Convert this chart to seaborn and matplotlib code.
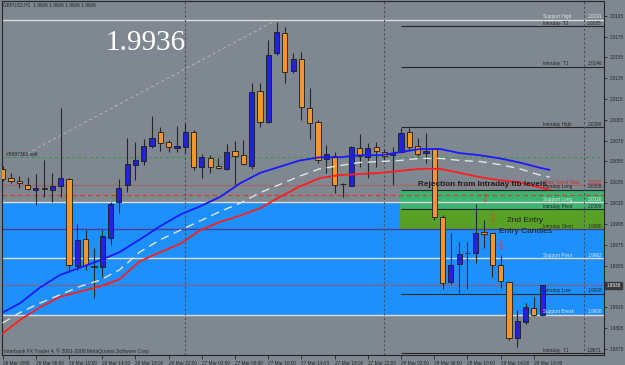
import numpy as np
import pandas as pd
import seaborn as sns
import matplotlib.pyplot as plt
import matplotlib.transforms as mtransforms

# GBPUSD H1, one candle per hour starting 26 Mar 2008 02:00
opens = [2.0048, 2.0039, 2.0036, 2.0032, 2.0028, 2.0030, 2.0028, 2.0031, 2.0038, 1.9955,
         1.9981, 1.9955, 1.9954, 1.9982, 2.0016, 2.0032, 2.0052, 2.0055, 2.0070, 2.0083,
         2.0074, 2.0068, 2.0069, 2.0083, 2.0050, 2.0058, 2.0051, 2.0048, 2.0065, 2.0061,
         2.0051, 2.0123, 2.0093, 2.0159, 2.0178, 2.0142, 2.0153, 2.0106, 2.0093, 2.0057,
         2.0060, 2.0033, 2.0031, 2.0068, 2.0059, 2.0069, 2.0064, 2.0061, 2.0064, 2.0083,
         2.0070, 2.0063, 2.0067, 2.0002, 1.9939, 1.9957, 1.9967, 1.9967, 1.9987, 1.9986,
         1.9956, 1.9939, 1.9886, 1.9901, 1.9914, 1.9908]
highs = [2.0051, 2.0044, 2.0041, 2.0040, 2.0043, 2.0056, 2.0044, 2.0106, 2.0039, 1.9995,
         1.9989, 1.9972, 1.9989, 2.0016, 2.0038, 2.0078, 2.0074, 2.0077, 2.0099, 2.0088,
         2.0076, 2.0089, 2.0092, 2.0085, 2.0062, 2.0061, 2.0058, 2.0072, 2.0075, 2.0076,
         2.0130, 2.0130, 2.0172, 2.0189, 2.0184, 2.0159, 2.0160, 2.0126, 2.0095, 2.0071,
         2.0064, 2.0034, 2.0070, 2.0081, 2.0073, 2.0074, 2.0066, 2.0069, 2.0087, 2.0087,
         2.0078, 2.0082, 2.0068, 2.0004, 1.9986, 1.9978, 1.9978, 2.0014, 1.9999, 1.9986,
         1.9965, 1.9939, 1.9912, 1.9919, 1.9925, 1.9936]
lows = [2.0036, 2.0034, 2.0030, 2.0028, 2.0013, 2.0021, 2.0016, 2.0021, 1.9949, 1.9951,
        1.9951, 1.9924, 1.9944, 1.9975, 2.0006, 2.0026, 2.0037, 2.0052, 2.0068, 2.0065,
        2.0064, 2.0064, 2.0063, 2.0047, 2.0039, 2.0044, 2.0048, 2.0047, 2.0032, 2.0052,
        2.0048, 2.0088, 2.0092, 2.0157, 2.0130, 2.0140, 2.0095, 2.0077, 2.0054, 2.0044,
        2.0025, 2.0021, 2.0031, 2.0050, 2.0039, 2.0050, 2.0056, 2.0032, 2.0063, 2.0066,
        2.0060, 2.0054, 1.9999, 1.9933, 1.9937, 1.9929, 1.9933, 1.9958, 1.9972, 1.9944,
        1.9934, 1.9884, 1.9877, 1.9899, 1.9907, 1.9907]
closes = [2.0038, 2.0036, 2.0034, 2.0029, 2.0030, 2.0029, 2.0031, 2.0039, 1.9956, 1.9980,
          1.9956, 1.9954, 1.9983, 2.0014, 2.0030, 2.0053, 2.0056, 2.0070, 2.0078, 2.0073,
          2.0069, 2.0070, 2.0083, 2.0050, 2.0059, 2.0050, 2.0049, 2.0064, 2.0060, 2.0053,
          2.0122, 2.0093, 2.0157, 2.0179, 2.0141, 2.0153, 2.0107, 2.0092, 2.0056, 2.0062,
          2.0032, 2.0033, 2.0069, 2.0060, 2.0068, 2.0065, 2.0060, 2.0063, 2.0082, 2.0069,
          2.0062, 2.0065, 2.0002, 1.9938, 1.9956, 1.9966, 1.9967, 1.9986, 1.9985, 1.9956,
          1.9940, 1.9886, 1.9902, 1.9915, 1.9908, 1.9936]

# moving averages, read at these bar positions
ma_bars = [0, 2.1, 4.5, 6.9, 9.3, 11.7, 14.1, 16.5, 19.0, 21.4, 23.8, 26.2, 28.6, 31.0, 33.4,
           35.8, 38.2, 40.6, 43.0, 45.5, 47.9, 50.3, 52.7, 55.1, 57.5, 59.9, 62.3, 64.7, 65.9]
ma_blue = [1.9910, 1.9919, 1.9934, 1.9946, 1.9953, 1.9960, 1.9968, 1.9980, 1.9993, 2.0004,
           2.0012, 2.0021, 2.0034, 2.0044, 2.0050, 2.0056, 2.0059, 2.0059, 2.0061, 2.0061,
           2.0064, 2.0067, 2.0067, 2.0063, 2.0061, 2.0058, 2.0054, 2.0049, 2.0047]
ma_silver = [1.9900, 1.9910, 1.9919, 1.9927, 1.9935, 1.9941, 1.9951, 1.9968, 1.9980, 1.9989,
             1.9998, 2.0007, 2.0015, 2.0025, 2.0033, 2.0041, 2.0048, 2.0051, 2.0054, 2.0055,
             2.0056, 2.0058, 2.0058, 2.0056, 2.0055, 2.0052, 2.0048, 2.0042, 2.0040]
ma_red = [1.9890, 1.9903, 1.9915, 1.9925, 1.9930, 1.9935, 1.9942, 1.9959, 1.9968, 1.9976,
          1.9989, 1.9997, 2.0003, 2.0010, 2.0021, 2.0031, 2.0039, 2.0042, 2.0043, 2.0044,
          2.0046, 2.0048, 2.0048, 2.0044, 2.0040, 2.0037, 2.0035, 2.0030, 2.0028]

# pivot / fib levels drawn by the indicator
level_names = ["Support High", "Intraday  T2", "Intraday  T1", "Intraday High",
               "Short Trend Stop", "Intraday Long", "Support Long", "Intraday Pivot",
               "Intraday Short", "Support Pivot", "Intraday Low", "Support Break", "Intraday  T1"]
level_values = [2.0191, 2.0185, 2.0146, 2.0088, 2.0032, 2.0028, 2.0016, 2.0009,
                1.9990, 1.9962, 1.9928, 1.9908, 1.9871]

support_zone = (1.9908, 2.0016)
long_zone = (2.0009, 2.0027)
short_zone = (1.9990, 2.0009)
bid = 1.9936
order_price = 2.0059
stop_price = 2.0023
trend_bars = [3, 32.8]
trend_prices = [2.0063, 2.0190]
day_breaks = [22, 46, 70]
arrow_bars = [58, 59, 60]
arrow_prices = [2.0019, 1.9999, 1.9974]

time_labels = ["26 Mar 2008", "26 Mar 06:00", "26 Mar 10:00", "26 Mar 14:00", "26 Mar 18:00",
               "26 Mar 22:00", "27 Mar 02:00", "27 Mar 06:00", "27 Mar 10:00", "27 Mar 14:00",
               "27 Mar 18:00", "27 Mar 22:00", "28 Mar 02:00", "28 Mar 06:00", "28 Mar 10:00",
               "28 Mar 14:00", "28 Mar 18:00"]
price_ticks = [2.0195, 2.0175, 2.0155, 2.0135, 2.0115, 2.0095, 2.0075, 2.0055, 2.0035,
               2.0015, 1.9995, 1.9975, 1.9955, 1.9935, 1.9915, 1.9895, 1.9875]

BG = "#7f8791"
BULL = "#2222d6"
BEAR = "#f3952a"
DARK = "#262626"
SMALL = "Liberation Sans"
SESSION = 48  # intraday levels start at the 28 Mar session

sns.set_style("white")
plt.rcParams["font.family"] = ["DejaVu Sans"]

df = pd.DataFrame({"open": opens, "high": highs, "low": lows, "close": closes})
df["bar"] = np.arange(len(df))

fig = plt.figure(figsize=(6.25, 3.65), dpi=100, facecolor=BG)
ax = fig.add_axes([2 / 625, 10 / 365, 602 / 625, 354 / 365])
ax.set_facecolor(BG)
ax.set_xlim(-0.08, 72.45)
ax.set_ylim(1.98692, 2.02091)

# zones
ax.axhspan(*support_zone, color="#1e90fb", lw=0, zorder=0.5)
ax.fill_between([SESSION - 0.15, 73], *long_zone, color="#3cb371", lw=0, zorder=0.6)
ax.fill_between([SESSION - 0.15, 73], *short_zone, color="#58a126", lw=0, zorder=0.6)

# level lines and labels
for name, v in zip(level_names, level_values):
    txt_color = DARK
    if name.startswith("Support"):
        ax.axhline(v, color="#dcdcdc", lw=1, zorder=1)
        txt_color = "#e6e6e6"
    elif name == "Short Trend Stop":
        ax.axhline(v, color="#9c6a6a", lw=1, zorder=1)
        txt_color = "#cc2a2a"
    elif name == "Intraday Short":
        ax.axhline(v, color="#4c3f92", lw=1, zorder=1)
    else:
        ax.hlines(v, SESSION, 73, color=DARK, lw=0.8, zorder=1)
    ax.text(65.1, v + 0.00004, name, fontsize=3.4, family=SMALL, color=txt_color,
            va="bottom", zorder=6)
    ax.text(72.2, v + 0.00004, f"{v:.4f}", fontsize=3.4, family=SMALL, color=txt_color,
            va="bottom", ha="right", zorder=6)

ax.axhline(bid, color="#8c5a8c", lw=0.8, zorder=1)
ax.axhline(order_price, color="#2f9a3a", lw=0.7, ls=(0, (3, 3)), zorder=1)
ax.axhline(stop_price, color="#d03a22", lw=0.8, ls=(0, (4, 3)), zorder=1)
ax.text(0.4, order_price + 0.00006, "#8997363 sell", fontsize=3.6, family=SMALL, color=DARK,
        va="bottom")
ax.plot(trend_bars, trend_prices, color="#b4b8c0", lw=0.7, ls=(0, (3, 3)), zorder=1)
for b in day_breaks:
    ax.axvline(b, color="#4a5060", lw=0.8, ls=(0, (2, 2)), zorder=1)

# candles
up = df["close"] >= df["open"]
ax.vlines(df["bar"], df["low"], df["high"], color=DARK, lw=0.8, zorder=4)
body = (df["close"] - df["open"]).abs().clip(lower=0.00003)
ax.bar(df["bar"], body, bottom=df[["open", "close"]].min(axis=1), width=0.62,
       color=np.where(up, BULL, BEAR), edgecolor="#1c1c1c", linewidth=0.6, zorder=5)

# moving averages
ma = pd.DataFrame({"bar": ma_bars, "blue": ma_blue, "silver": ma_silver, "red": ma_red})
sns.lineplot(data=ma, x="bar", y="red", color="#ff1e1e", lw=1.3, ax=ax, zorder=6)
sns.lineplot(data=ma, x="bar", y="silver", color="#e4e4e4", lw=1, ls=(0, (6, 4)), ax=ax, zorder=6)
sns.lineplot(data=ma, x="bar", y="blue", color="#1a1aff", lw=1.3, ax=ax, zorder=6)

# annotations
ax.text(50.0, 2.0033, "Rejection from Intraday fib levels", fontsize=5.9, weight="bold",
        color="#1e1e1e", family=SMALL, va="center", zorder=7)
ax.text(60.8, 1.9998, "2nd Entry", fontsize=6.0, color="#1e1e1e", family=SMALL,
        va="center", zorder=7)
ax.text(59.8, 1.9988, "Entry Candles", fontsize=6.0, color="#1e1e1e", family=SMALL,
        va="center", zorder=7)
for b, p in zip(arrow_bars, arrow_prices):
    ax.text(b, p, "\u21e9", fontsize=7, color="#d8401e", ha="center", va="center", zorder=7)

ax.text(0.239, 0.881, f"{bid:.4f}", transform=ax.transAxes, fontsize=21, color="white",
        family="Liberation Serif", ha="center", va="center")
ax.text(0.002, 0.997, "GBPUSD,H1  1.9936 1.9936 1.9936 1.9936", transform=ax.transAxes,
        fontsize=3.4, family=SMALL, color=DARK, va="top")
ax.text(0.003, 0.004, "Interbank FX Trader 4, \u00a9 2001-2008 MetaQuotes Software Corp.",
        transform=ax.transAxes, fontsize=3.6, family=SMALL, color=DARK, va="bottom")

trans = mtransforms.blended_transform_factory(ax.transAxes, ax.transData)
ax.text(1.004, bid, f"{bid:.4f}", transform=trans, fontsize=3.3, family=SMALL, color="white",
        va="center", bbox=dict(boxstyle="square,pad=0.25", fc="#3a3a3a", ec="#3a3a3a"),
        zorder=8, clip_on=False)

# axes
ax.yaxis.tick_right()
ax.set_yticks(price_ticks)
ax.set_yticklabels([f"{p:.4f}" for p in price_ticks])
ax.set_xticks(np.arange(0, 65, 4))
ax.set_xticklabels(time_labels)
for lbl in ax.get_xticklabels() + ax.get_yticklabels():
    lbl.set_family(SMALL)
for lbl in ax.get_xticklabels():
    lbl.set_ha("left")
ax.tick_params(axis="y", labelsize=3.3, length=2.5, width=0.6, pad=1.5, colors=DARK, right=True)
ax.tick_params(axis="x", labelsize=3.4, length=3, width=0.6, pad=1, colors=DARK, bottom=True)
ax.set_xlabel("")
ax.set_ylabel("")
for s in ax.spines.values():
    s.set_color(DARK)
    s.set_linewidth(0.8)
ax.grid(False)

fig.savefig("out.png", dpi=100, facecolor=BG)
